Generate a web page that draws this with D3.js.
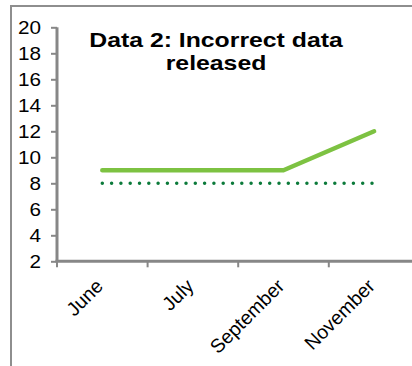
<!DOCTYPE html>
<html><head><meta charset="utf-8">
<script src="https://cdn.jsdelivr.net/npm/d3@7"></script>
<style>body{margin:0;background:#fff}svg{display:block}text{font-family:Arial,"Liberation Sans",sans-serif}</style>
</head><body>
<svg id="c" width="412" height="366"></svg>
<script>
const categories = ["June", "July", "September", "November"];
const releasedValues = [9, 9, 9, 12];
const correctValues = [8, 8, 8, 8];
const yTicks = [2, 4, 6, 8, 10, 12, 14, 16, 18, 20];
const titleLines = ["Data 2: Incorrect data", "released"];

const svg = d3.select("#c");
// outer frame (left and top edges visible)
svg.append("path").attr("d", "M11,366V6H412").attr("fill", "none").attr("stroke", "#8e8e8e").attr("stroke-width", 2);

const x = d3.scaleBand().domain(categories).range([57, 419.4]);
const y = d3.scaleLinear().domain([2, 20]).range([261.3, 27.3]);
const axisColor = "#878787";

// y axis
const yAxis = svg.append("g").attr("transform", "translate(57,0)")
  .call(d3.axisLeft(y).tickValues(yTicks).tickSize(6).tickPadding(10));
yAxis.select(".domain").attr("stroke", axisColor).attr("stroke-width", 3).attr("d", `M0,${y(20)}V${y(2)}`);
yAxis.selectAll(".tick line").attr("stroke", axisColor).attr("stroke-width", 2);
yAxis.selectAll(".tick text").attr("font-size", 18).attr("fill", "#000")
  .attr("font-family", "Arial, 'Liberation Sans', sans-serif")
  .attr("x", 0).attr("transform", "translate(-16,0) scale(1.15,1)");

// x axis with ticks at band boundaries
const xg = svg.append("g");
xg.append("line").attr("x1", 55.5).attr("x2", 420).attr("y1", y(2)).attr("y2", y(2)).attr("stroke", axisColor).attr("stroke-width", 3);
const bounds = categories.map(c => x(c)).concat([x(categories[categories.length-1]) + x.bandwidth()]);
xg.selectAll(".xt").data(bounds).join("line")
  .attr("x1", d => d).attr("x2", d => d).attr("y1", y(2)).attr("y2", y(2) + 6)
  .attr("stroke", axisColor).attr("stroke-width", 2);
xg.selectAll(".xl").data(categories).join("text")
  .attr("transform", d => `translate(${x(d) + x.bandwidth()/2 + 2},${y(2) + 26}) rotate(-45)`)
  .attr("text-anchor", "end").attr("font-size", 19.5).attr("fill", "#000").text(d => d);

const cx = d => x(d) + x.bandwidth()/2;
const line = d3.line().x(d => cx(d.c)).y(d => y(d.v));

svg.append("path").datum(categories.map((c, i) => ({c, v: correctValues[i]})))
  .attr("d", line).attr("fill", "none").attr("stroke", "#0b7a3a").attr("stroke-width", 3.5)
  .attr("stroke-linecap", "round").attr("stroke-dasharray", "0 9.3");

svg.append("path").datum(categories.map((c, i) => ({c, v: releasedValues[i]})))
  .attr("d", line).attr("fill", "none").attr("stroke", "#7dc242").attr("stroke-width", 4.5)
  .attr("stroke-linecap", "round").attr("stroke-linejoin", "round");

svg.append("g").selectAll("text").data(titleLines).join("text")
  .attr("transform", (d, i) => `translate(216,${47 + i * 23}) scale(1.24,1)`)
  .attr("text-anchor", "middle")
  .attr("font-size", 20).attr("font-weight", "bold").attr("fill", "#000").text(d => d);
</script>
</body></html>
